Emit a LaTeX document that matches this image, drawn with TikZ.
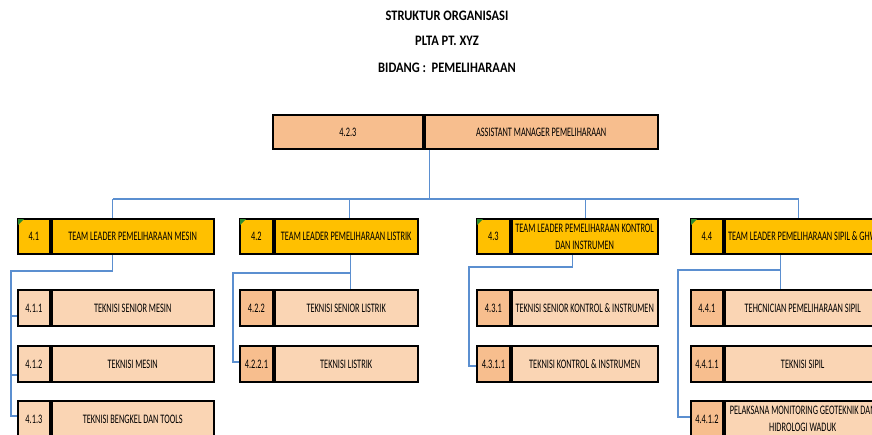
\documentclass[tikz,border=0pt]{standalone}
\usepackage{fontspec}
\setmainfont{Carlito}
\newfontfamily\cellfont[FakeStretch=0.64]{Carlito}
\newfontfamily\titlefont[FakeStretch=0.86]{Carlito}
\usetikzlibrary{calc}
\definecolor{gold}{HTML}{FFC000}
\definecolor{peachd}{HTML}{F7BE8E}
\definecolor{peachl}{HTML}{FAD5B4}
\definecolor{conn}{HTML}{5B8FD0}
\definecolor{tri}{HTML}{2E8B2E}
\begin{document}
\begin{tikzpicture}[x=1pt,y=-1pt,
  cell/.style={draw=black, line width=1.8pt, anchor=north west, inner sep=0pt,
    font=\cellfont\fontsize{13}{17}\selectfont, align=center},
  lvtwo/.style={cell, fill=gold, minimum height=35pt},
  lvthree/.style={cell, minimum height=36pt},
  celltext/.style={inner sep=0pt, font=\cellfont\fontsize{13}{17}\selectfont},
  title/.style={font=\titlefont\bfseries\fontsize{14.5}{16}\selectfont, inner sep=0pt},
  link/.style={draw=conn, line width=1.3pt},
  marker/.style={fill=tri}]
\clip (0,0) rectangle (872,434);
\fill[white] (0,0) rectangle (872,434);

% titles
\node[title] (t1) at (447,16) {STRUKTUR ORGANISASI};
\node[title] (t2) at (447,41) {PLTA PT. XYZ};
\node[title] (t3) at (447,68) {BIDANG :\ \ PEMELIHARAAN};

% top box
\node[cell, fill=peachd, minimum width=150pt, minimum height=34pt] (n0) at (272,114) {4.2.3};
\node[cell, fill=peachd, minimum width=233pt, minimum height=34pt] (l0) at (n0.north east) {ASSISTANT MANAGER PEMELIHARAAN};

% level 2
\node[lvtwo, minimum width=32pt] (n1) at (17,218) {4.1};
\node[lvtwo, minimum width=162pt] (l1) at (n1.north east) {TEAM LEADER PEMELIHARAAN MESIN};
\node[lvtwo, minimum width=33pt] (n2) at (239,218) {4.2};
\node[lvtwo, minimum width=143pt] (l2) at (n2.north east) {TEAM LEADER PEMELIHARAAN LISTRIK};
\node[lvtwo, minimum width=33pt] (n3) at (476,218) {4.3};
\node[lvtwo, minimum width=146pt] (l3) at (n3.north east) {TEAM LEADER PEMELIHARAAN KONTROL\\DAN INSTRUMEN};
\node[lvtwo, minimum width=32pt] (n4) at (690,218) {4.4};
\node[lvtwo, minimum width=200pt] (l4) at (n4.north east) {};
\node[celltext, anchor=west] (l4t) at ($(l4.west)+(4,0)$) {TEAM LEADER PEMELIHARAAN SIPIL \& GHW};

\foreach \n in {n1,n2,n3,n4}{
  \fill[marker] ($(\n.north west)+(1,1)$) -- ++(6,0) -- ++(-6,6) -- cycle;
}

% level 3 column 1
\node[lvthree, fill=peachl, minimum width=32pt] (n11) at (17,289) {4.1.1};
\node[lvthree, fill=peachl, minimum width=162pt] (l11) at (n11.north east) {TEKNISI SENIOR MESIN};
\node[lvthree, fill=peachl, minimum width=32pt] (n12) at (17,345) {4.1.2};
\node[lvthree, fill=peachl, minimum width=162pt] (l12) at (n12.north east) {TEKNISI MESIN};
\node[lvthree, fill=peachl, minimum width=32pt] (n13) at (17,400) {4.1.3};
\node[lvthree, fill=peachl, minimum width=162pt] (l13) at (n13.north east) {TEKNISI BENGKEL DAN TOOLS};

% level 3 column 2
\node[lvthree, fill=peachd, minimum width=33pt] (n21) at (239,289) {4.2.2};
\node[lvthree, fill=peachl, minimum width=143pt] (l21) at (n21.north east) {TEKNISI SENIOR LISTRIK};
\node[lvthree, fill=peachd, minimum width=33pt] (n22) at (239,345) {4.2.2.1};
\node[lvthree, fill=peachl, minimum width=143pt] (l22) at (n22.north east) {TEKNISI LISTRIK};

% level 3 column 3
\node[lvthree, fill=peachd, minimum width=33pt] (n31) at (476,289) {4.3.1};
\node[lvthree, fill=peachl, minimum width=146pt] (l31) at (n31.north east) {TEKNISI SENIOR KONTROL \& INSTRUMEN};
\node[lvthree, fill=peachd, minimum width=33pt] (n32) at (476,345) {4.3.1.1};
\node[lvthree, fill=peachl, minimum width=146pt] (l32) at (n32.north east) {TEKNISI KONTROL \& INSTRUMEN};

% level 3 column 4
\node[lvthree, fill=peachd, minimum width=32pt] (n41) at (690,289) {4.4.1};
\node[lvthree, fill=peachl, minimum width=156pt] (l41) at (n41.north east) {TEHCNICIAN PEMELIHARAAN SIPIL};
\node[lvthree, fill=peachd, minimum width=32pt] (n42) at (690,345) {4.4.1.1};
\node[lvthree, fill=peachl, minimum width=156pt] (l42) at (n42.north east) {TEKNISI SIPIL};
\node[lvthree, fill=peachd, minimum width=32pt] (n43) at (690,400) {4.4.1.2};
\node[lvthree, fill=peachl, minimum width=156pt] (l43) at (n43.north east) {PELAKSANA MONITORING GEOTEKNIK DAN\\HIDROLOGI WADUK};

% connector points
\coordinate (top) at ($(l0.south west)+(6,0)$);
\coordinate (bus) at (0,199);
\coordinate (d1) at ($(l1.north west)+(62,0)$);
\coordinate (d2) at ($(l2.north west)+(76,0)$);
\coordinate (d3) at ($(l3.north west)+(75,0)$);
\coordinate (d4) at ($(l4.north west)+(75,0)$);

\draw[link] (top) -- (top |- bus);
\draw[link] (d1 |- bus) -- (d4 |- bus);
\foreach \d in {d1,d2,d3,d4}{ \draw[link] (\d |- bus) -- (\d); }

% column 1 branch
\coordinate (s1) at ($(l1.south west)+(62,0)$);
\coordinate (r1) at (11,271);
\draw[link] (s1) -- (s1 |- r1) -- (r1) -- (r1 |- 0,416) -- (n13.west |- 0,416);
\draw[link] (r1 |- 0,316) -- (n11.west |- 0,316);
\draw[link] (r1 |- 0,375) -- (n12.west |- 0,375);

% column 2 branch
\coordinate (s2) at ($(l2.south west)+(77,0)$);
\coordinate (r2) at (233,273);
\draw[link] (s2) -- (s2 |- l21.north);
\draw[link] (s2 |- r2) -- (r2) -- (r2 |- 0,362) -- (n22.west |- 0,362);

% column 3 branch
\coordinate (s3) at ($(l3.south west)+(62,0)$);
\coordinate (r3) at (469,267);
\draw[link] (s3) -- (s3 |- r3) -- (r3) -- (r3 |- 0,366) -- (n32.west |- 0,366);

% column 4 branch
\coordinate (s4) at ($(l4.south west)+(57,0)$);
\coordinate (r4) at (678,270);
\draw[link] (s4) -- (s4 |- l41.north);
\draw[link] (s4 |- r4) -- (r4) -- (r4 |- 0,417) -- (n43.west |- 0,417);
\end{tikzpicture}
\end{document}
